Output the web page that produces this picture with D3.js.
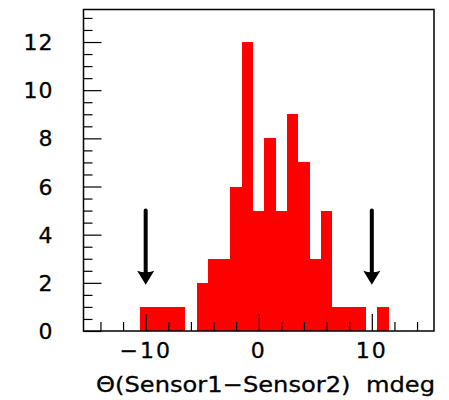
<!DOCTYPE html>
<html>
<head>
<meta charset="utf-8">
<script src="https://cdn.jsdelivr.net/npm/d3@7"></script>
<style>
  body { margin: 0; background: #fff; }
  text { font-family: "DejaVu Sans", sans-serif; fill: #000; }
</style>
</head>
<body>
<svg id="chart" width="449" height="400"></svg>
<script>
// histogram bins (centre of each 1 mdeg bin) and entries
const binCenters = [-10, -9, -8, -7, -6, -5, -4, -3, -2, -1, 0, 1, 2, 3, 4, 5, 6, 7, 8, 9, 10, 11];
const binCounts = [1, 1, 1, 1, 0, 2, 3, 3, 6, 12, 5, 8, 5, 9, 7, 3, 5, 1, 1, 1, 0, 1];
const binWidth = 1;

// cut markers
const arrowX = [-10, 10];
const arrowFrom = 5;
const arrowTo = 2;

const xMajorTicks = [-10, 0, 10];
const xMinorTicks = [-14, -12, -8, -6, -4, -2, 2, 4, 6, 8, 12, 14];
const yMajorTicks = [0, 2, 4, 6, 8, 10, 12];
const yMinorTicks = [0.5, 1, 1.5, 2.5, 3, 3.5, 4.5, 5, 5.5, 6.5, 7, 7.5, 8.5, 9, 9.5,
  10.5, 11, 11.5, 12.5, 13];
const xTitle = 'Θ(Sensor1−Sensor2)  mdeg';

let svg = d3.select('#chart');
let x = d3.scaleLinear().domain([-15.5, 15.5]).range([83.5, 434]);
let y = d3.scaleLinear().domain([0, 13.35]).range([331, 9.5]);

// bars
svg.append('g')
  .selectAll('rect')
  .data(binCenters.map((c, i) => ({c, n: binCounts[i]})).filter(d => d.n > 0))
  .enter()
  .append('rect')
  .attr('x', d => x(d.c - binWidth / 2))
  .attr('width', d => x(d.c + binWidth / 2) - x(d.c - binWidth / 2))
  .attr('y', d => y(d.n))
  .attr('height', d => y(0) - y(d.n))
  .attr('fill', '#ff0000')
  .attr('shape-rendering', 'crispEdges');

// ticks (drawn inside the frame, on top of the bars)
function ticks(axis, values, size, transform) {
  let g = svg.append('g')
    .attr('transform', transform)
    .call(axis.tickValues(values).tickSize(size).tickFormat(''));
  g.select('.domain').remove();
  g.selectAll('line').attr('stroke', '#000').attr('stroke-width', 1.2);
  return g;
}
ticks(d3.axisBottom(x), xMinorTicks, -9, `translate(0,${y(0)})`);
ticks(d3.axisBottom(x), xMajorTicks, -17, `translate(0,${y(0)})`);
ticks(d3.axisLeft(y), yMinorTicks, -9, `translate(${x.range()[0]},0)`);
ticks(d3.axisLeft(y), yMajorTicks, -18, `translate(${x.range()[0]},0)`);

// frame
svg.append('rect')
  .attr('x', x.range()[0])
  .attr('y', y.range()[1])
  .attr('width', x.range()[1] - x.range()[0])
  .attr('height', y.range()[0] - y.range()[1])
  .attr('fill', 'none')
  .attr('stroke', '#000')
  .attr('stroke-width', 1.5);

// tick labels
svg.append('g')
  .selectAll('text')
  .data(yMajorTicks)
  .enter()
  .append('text')
  .attr('x', 53.5)
  .attr('y', d => y(d) + 8)
  .attr('text-anchor', 'end')
  .attr('font-size', 22)
  .attr('letter-spacing', 1)
  .attr('stroke', '#000')
  .attr('stroke-width', 0.3)
  .text(d => d);

svg.append('g')
  .selectAll('text')
  .data(xMajorTicks)
  .enter()
  .append('text')
  .attr('x', d => x(d))
  .attr('y', 358)
  .attr('text-anchor', 'middle')
  .attr('font-size', 22)
  .attr('letter-spacing', 2)
  .attr('stroke', '#000')
  .attr('stroke-width', 0.3)
  .text(d => d < 0 ? '−' + Math.abs(d) : d);

// axis title
svg.append('text')
  .attr('x', 435)
  .attr('y', 392)
  .attr('text-anchor', 'end')
  .attr('font-size', 21)
  .attr('textLength', 339)
  .attr('lengthAdjust', 'spacingAndGlyphs')
  .attr('stroke', '#000')
  .attr('stroke-width', 0.3)
  .style('white-space', 'pre')
  .text(xTitle);

// arrows
let arrows = svg.append('g').selectAll('g').data(arrowX).enter().append('g');
arrows.append('line')
  .attr('x1', d => x(d))
  .attr('x2', d => x(d))
  .attr('y1', y(arrowFrom))
  .attr('y2', y(arrowTo) - 10)
  .attr('stroke', '#000')
  .attr('stroke-width', 4)
  .attr('stroke-linecap', 'round');
arrows.append('path')
  .attr('d', d => {
    let cx = x(d), tip = y(arrowTo) + 2;
    return `M${cx - 8.5},${tip - 14} Q${cx},${tip - 11} ${cx + 8.5},${tip - 14} L${cx},${tip} Z`;
  })
  .attr('fill', '#000');
</script>
</body>
</html>
